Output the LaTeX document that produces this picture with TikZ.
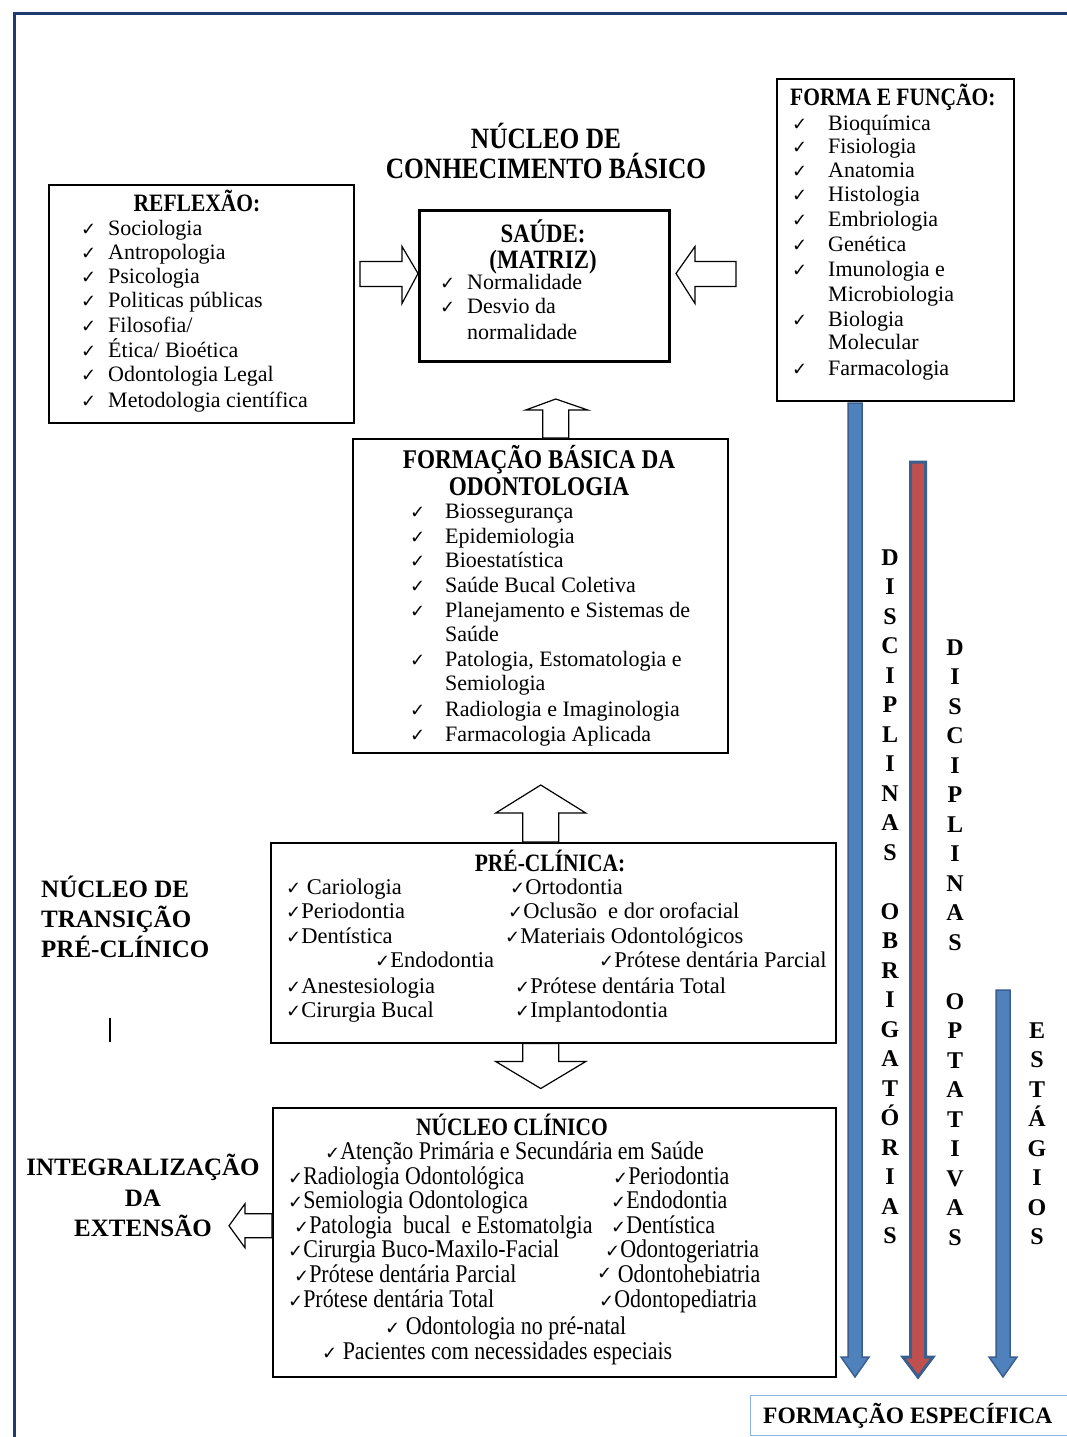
\documentclass[tikz,border=0pt]{standalone}
\usepackage{fontspec}
\setmainfont{Liberation Serif}
\newfontfamily\condf[FakeStretch=0.86]{Liberation Serif}
\newfontfamily\symf{DejaVu Sans}
\usetikzlibrary{calc}
\definecolor{navy}{HTML}{1F3A6E}
\definecolor{blueFill}{HTML}{4F81BD}
\definecolor{blueEdge}{HTML}{3A5F8F}
\definecolor{redFill}{HTML}{C0504D}
\definecolor{feBlue}{HTML}{8DB3E2}
\newcommand\ck{{\symf\fontsize{18}{18}\selectfont ✓}}
\newcommand\hck[1]{\llap{\ck\hspace{#1}}}
\newcommand\varr[8]{% x, ytop, yhead, ytip, shafthalf, headhalf, fill, linewidth
  \filldraw[fill=#7, draw=blueEdge, line width=#8, line join=miter]
    ({#1-#5},#2) -- ({#1+#5},#2) -- ({#1+#5},#3) -- ({#1+#6},#3) -- (#1,#4)
    -- ({#1-#6},#3) -- ({#1-#5},#3) -- cycle;}
\begin{document}
\begin{tikzpicture}[x=1pt,y=-1pt,
  box/.style={draw=black, line width=1.5pt, fill=white, inner sep=0pt, anchor=north west},
  bt/.style={anchor=base west, inner sep=0pt, font=\fontsize{22}{24}\selectfont},
  prt/.style={anchor=base west, inner sep=0pt, font=\fontsize{22.5}{24}\selectfont},
  nct/.style={anchor=base west, inner sep=0pt, font=\condf\fontsize{25.5}{26}\selectfont},
  hd/.style={anchor=base, inner sep=0pt, font=\condf\bfseries\fontsize{25}{26}\selectfont},
  big/.style={inner sep=0pt, font=\bfseries\fontsize{25}{26}\selectfont},
  vl/.style={anchor=base, inner sep=0pt, font=\bfseries\fontsize{24}{24}\selectfont},
  barrow/.style={draw=black, line width=1.2pt, fill=white, line join=miter},
]
\useasboundingbox (0,0) rectangle (1067,1437);
\fill[white] (0,0) rectangle (1067,1437);
% outer border
\draw[navy, line width=3pt] (14,1440) -- (14,14) -- (1070,14);

% title
\node[hd, font=\condf\bfseries\fontsize{29.5}{30}\selectfont] (title1) at (546,148) {NÚCLEO DE};
\node[hd, font=\condf\bfseries\fontsize{29.5}{30}\selectfont] (title2) at (546,178) {CONHECIMENTO BÁSICO};

% boxes
\node[box, minimum width=305pt, minimum height=238pt] (refl) at (48,184) {};
\node[box, line width=3pt, minimum width=250pt, minimum height=151pt] (saude) at (418,209) {};
\node[box, minimum width=237pt, minimum height=322pt] (forma) at (776,78) {};
\node[box, minimum width=375pt, minimum height=314pt] (fbd) at (352,438) {};
\node[box, minimum width=565pt, minimum height=200pt] (pre) at (270,842) {};
\node[box, minimum width=563pt, minimum height=269pt] (nc) at (272,1107) {};

% REFLEXAO
\node[hd] (reflh) at (197,211) {REFLEXÃO:};
\node[bt] (r1) at (108,235) {\hck{12pt}Sociologia};
\node[bt] (r2) at (108,259) {\hck{12pt}Antropologia};
\node[bt] (r3) at (108,283) {\hck{12pt}Psicologia};
\node[bt] (r4) at (108,307) {\hck{12pt}Politicas públicas};
\node[bt] (r5) at (108,332) {\hck{12pt}Filosofia/};
\node[bt] (r6) at (108,357) {\hck{12pt}Ética/ Bioética};
\node[bt] (r7) at (108,381) {\hck{12pt}Odontologia Legal};
\node[bt] (r8) at (108,407) {\hck{12pt}Metodologia científica};

% SAUDE
\node[hd, font=\condf\bfseries\fontsize{26.5}{27}\selectfont] (sh1) at (543,242) {SAÚDE:};
\node[hd, font=\condf\bfseries\fontsize{26.5}{27}\selectfont] (sh2) at (543,268) {(MATRIZ)};
\node[bt] (s1) at (467,289) {\hck{12pt}Normalidade};
\node[bt] (s2) at (467,313) {\hck{12pt}Desvio da};
\node[bt] (s3) at (467,339) {normalidade};

% FORMA E FUNCAO
\node[hd, anchor=base west] (fh) at (790,105) {FORMA E FUNÇÃO:};
\node[bt] (f1) at (828,130) {\hck{21pt}Bioquímica};
\node[bt] (f2) at (828,153) {\hck{21pt}Fisiologia};
\node[bt] (f3) at (828,177) {\hck{21pt}Anatomia};
\node[bt] (f4) at (828,201) {\hck{21pt}Histologia};
\node[bt] (f5) at (828,226) {\hck{21pt}Embriologia};
\node[bt] (f6) at (828,251) {\hck{21pt}Genética};
\node[bt] (f7) at (828,276) {\hck{21pt}Imunologia e};
\node[bt] (f8) at (828,301) {Microbiologia};
\node[bt] (f9) at (828,326) {\hck{21pt}Biologia};
\node[bt] (f10) at (828,349) {Molecular};
\node[bt] (f11) at (828,375) {\hck{21pt}Farmacologia};

% FORMACAO BASICA
\node[hd, font=\condf\bfseries\fontsize{27}{27}\selectfont] (bh1) at (539,468) {FORMAÇÃO BÁSICA DA};
\node[hd, font=\condf\bfseries\fontsize{27}{27}\selectfont] (bh2) at (539,495) {ODONTOLOGIA};
\node[bt] (b1) at (445,518) {\hck{20pt}Biossegurança};
\node[bt] (b2) at (445,543) {\hck{20pt}Epidemiologia};
\node[bt] (b3) at (445,567) {\hck{20pt}Bioestatística};
\node[bt] (b4) at (445,592) {\hck{20pt}Saúde Bucal Coletiva};
\node[bt] (b5) at (445,617) {\hck{20pt}Planejamento e Sistemas de};
\node[bt] (b6) at (445,641) {Saúde};
\node[bt] (b7) at (445,666) {\hck{20pt}Patologia, Estomatologia e};
\node[bt] (b8) at (445,690) {Semiologia};
\node[bt] (b9) at (445,716) {\hck{20pt}Radiologia e Imaginologia};
\node[bt] (b10) at (445,741) {\hck{20pt}Farmacologia Aplicada};

% PRE-CLINICA
\node[hd] (ph) at (550,871) {PRÉ-CLÍNICA:};
\node[prt] (p1) at (286,894) {\ck\ Cariologia};
\node[prt] (p2) at (286,918) {\ck Periodontia};
\node[prt] (p3) at (286,943) {\ck Dentística};
\node[prt] (p4) at (375,967) {\ck Endodontia};
\node[prt] (p5) at (286,993) {\ck Anestesiologia};
\node[prt] (p6) at (286,1017) {\ck Cirurgia Bucal};
\node[prt] (p7) at (510,894) {\ck Ortodontia};
\node[prt] (p8) at (508,918) {\ck Oclusão\ \ e dor orofacial};
\node[prt] (p9) at (505,943) {\ck Materiais Odontológicos};
\node[prt] (p10) at (599,967) {\ck Prótese dentária Parcial};
\node[prt] (p11) at (515,993) {\ck Prótese dentária Total};
\node[prt] (p12) at (515,1017) {\ck Implantodontia};

% NUCLEO CLINICO
\node[hd] (nh) at (512,1135) {NÚCLEO CLÍNICO};
\node[nct] (n1) at (325,1159) {\ck Atenção Primária e Secundária em Saúde};
\node[nct] (n2) at (288,1184) {\ck Radiologia Odontológica};
\node[nct] (n3) at (613,1184) {\ck Periodontia};
\node[nct] (n4) at (288,1208) {\ck Semiologia Odontologica};
\node[nct] (n5) at (611,1208) {\ck Endodontia};
\node[nct] (n6) at (294,1233) {\ck Patologia\ \ bucal\ \ e Estomatolgia};
\node[nct] (n7) at (611,1233) {\ck Dentística};
\node[nct] (n8) at (288,1257) {\ck Cirurgia Buco-Maxilo-Facial};
\node[nct] (n9) at (605,1257) {\ck Odontogeriatria};
\node[nct] (n10) at (294,1282) {\ck Prótese dentária Parcial};
\node[nct] (n11) at (597,1282) {\raisebox{3pt}{\ck}\ Odontohebiatria};
\node[nct] (n12) at (288,1307) {\ck Prótese dentária Total};
\node[nct] (n13) at (599,1307) {\ck Odontopediatria};
\node[nct] (n14) at (385,1334) {\ck\ Odontologia no pré-natal};
\node[nct] (n15) at (322,1359) {\ck\ Pacientes com necessidades especiais};

% side labels
\node[big, anchor=base west] (tr1) at (41,897) {NÚCLEO DE};
\node[big, anchor=base west] (tr2) at (41,927) {TRANSIÇÃO};
\node[big, anchor=base west] (tr3) at (41,957) {PRÉ-CLÍNICO};
\node[big, anchor=base] (ie1) at (143,1175) {INTEGRALIZAÇÃO};
\node[big, anchor=base] (ie2) at (143,1206) {DA};
\node[big, anchor=base] (ie3) at (143,1236) {EXTENSÃO};
\draw[black, line width=1.5pt] (110,1018) -- (110,1042);

% block arrows
\draw[barrow] ($(saude.west)+(0,-12.5)$) -- ++(-16,-27) -- ++(0,15) -- ++(-42,0)
  -- ++(0,25) -- ++(42,0) -- ++(0,17) -- cycle;
\draw[barrow] ($(saude.east)+(5,-12.5)$) -- ++(19,-27) -- ++(0,15) -- ++(41,0)
  -- ++(0,25) -- ++(-41,0) -- ++(0,17) -- cycle;
\draw[barrow] ($(fbd.north)+(2.5,0)$) -- ++(0,-28) -- ++(-17,0) -- ++(30,-11)
  -- ++(32,11) -- ++(-19,0) -- ++(0,28) -- cycle;
\draw[barrow] ($(pre.north)+(-30.5,0)$) -- ++(0,-29) -- ++(-27,0) -- ++(45,-28)
  -- ++(45,28) -- ++(-27,0) -- ++(0,29) -- cycle;
\draw[barrow] ($(pre.south)+(-30.5,0)$) -- ++(0,18) -- ++(-27,0) -- ++(45,27)
  -- ++(45,-27) -- ++(-27,0) -- ++(0,-18) -- cycle;
\draw[barrow] ($(nc.west)+(0,-28.5)$) -- ++(-27,0) -- ++(0,-10) -- ++(-16,22)
  -- ++(16,22) -- ++(0,-10) -- ++(27,0) -- cycle;

% vertical arrows
\varr{855}{403}{1357}{1377}{7}{14}{blueFill}{1.5pt}
\varr{918}{462}{1357}{1377}{7.5}{15}{redFill}{3pt}
\varr{1003}{990}{1357}{1377}{7}{14}{blueFill}{1.5pt}

% vertical letters
\foreach \l [count=\i] in {D,I,S,C,I,P,L,I,N,A,S,{},O,B,R,I,G,A,T,Ó,R,I,A,S}
  \node[vl] (ob\i) at (890,{565+29.5*(\i-1)}) {\l};
\foreach \l [count=\i] in {D,I,S,C,I,P,L,I,N,A,S,{},O,P,T,A,T,I,V,A,S}
  \node[vl] (op\i) at (955,{655+29.5*(\i-1)}) {\l};
\foreach \l [count=\i] in {E,S,T,Á,G,I,O,S}
  \node[vl] (es\i) at (1037,{1038+29.5*(\i-1)}) {\l};

% formacao especifica
\node[draw=feBlue, line width=1.2pt, fill=white, anchor=north west, inner sep=0pt,
  minimum width=330pt, minimum height=40pt] (fe) at (750,1395) {};
\node[big, anchor=base west, font=\bfseries\fontsize{23.5}{24}\selectfont] (fet) at (763,1423) {FORMAÇÃO ESPECÍFICA};
\end{tikzpicture}
\end{document}
